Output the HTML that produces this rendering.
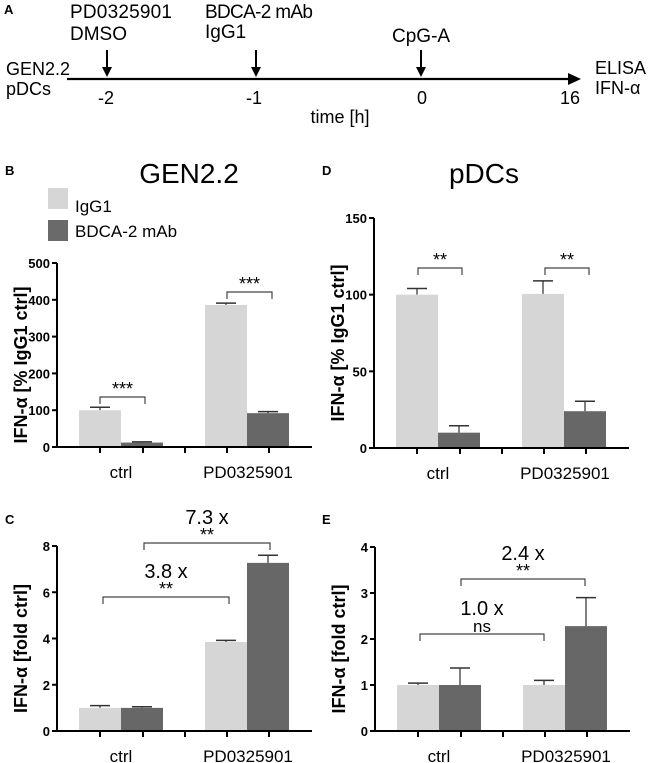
<!DOCTYPE html>
<html><head><meta charset="utf-8"><style>
body{margin:0;background:#fff;}
svg{display:block;font-family:"Liberation Sans",Arial,sans-serif;}
</style></head><body>
<svg id="fig" width="649" height="763" viewBox="0 0 649 763">
<g id="panelA">
<text x="4" y="14" font-size="13" font-weight="bold">A</text>
<line x1="67" y1="79" x2="572" y2="79" stroke="#000" stroke-width="2.2"/>
<polygon points="568,73 581,79 568,85" fill="#000"/>
<g stroke="#000" stroke-width="2">
<line x1="107" y1="50" x2="107" y2="70"/><line x1="256" y1="50" x2="256" y2="70"/><line x1="421" y1="50" x2="421" y2="70"/></g>
<g fill="#000"><polygon points="102,67 112,67 107,77"/><polygon points="251,67 261,67 256,77"/><polygon points="416,67 426,67 421,77"/></g>
<text x="70" y="18" font-size="19" textLength="102">PD0325901</text>
<text x="70" y="40" font-size="19">DMSO</text>
<text x="205" y="18" font-size="19" textLength="108">BDCA-2 mAb</text>
<text x="205" y="38" font-size="19">IgG1</text>
<text x="392" y="42" font-size="19">CpG-A</text>
<text x="6" y="75" font-size="18">GEN2.2</text>
<text x="6" y="95" font-size="18">pDCs</text>
<text x="595" y="74" font-size="18">ELISA</text>
<text x="595" y="94" font-size="18">IFN-α</text>
<g font-size="18" text-anchor="middle">
<text x="106" y="104">-2</text><text x="254" y="104">-1</text><text x="422" y="104">0</text><text x="570" y="104">16</text></g>
<text x="340" y="123" font-size="18" text-anchor="middle">time [h]</text>
</g>
<text x="5" y="175" font-size="13" font-weight="bold">B</text>
<text x="189" y="183" font-size="28" text-anchor="middle">GEN2.2</text>
<text x="322" y="175" font-size="13" font-weight="bold">D</text>
<text x="484" y="183" font-size="28" text-anchor="middle">pDCs</text>
<rect x="48" y="188" width="20" height="21" fill="#d6d6d6"/>
<text x="75" y="212" font-size="17">IgG1</text>
<rect x="48" y="220" width="20" height="21" fill="#6a6a6a"/>
<text x="75" y="237" font-size="17">BDCA-2 mAb</text>
<text x="5" y="524" font-size="13" font-weight="bold">C</text>
<text x="322" y="524" font-size="13" font-weight="bold">E</text>
</svg>
<script>
const categories = ["ctrl", "PD0325901"];
const bValues = [100, 12, 386, 92];
const bErrors = [108, 14, 391, 96];
const bTicks = [0, 100, 200, 300, 400, 500];
const cValues = [1.0, 1.0, 3.85, 7.27];
const cErrors = [1.1, 1.05, 3.92, 7.6];
const cTicks = [0, 2, 4, 6, 8];
const dValues = [100, 10, 100.5, 24];
const dErrors = [104, 14.5, 109, 30.5];
const dTicks = [0, 50, 100, 150];
const eValues = [1.0, 1.0, 1.0, 2.28];
const eErrors = [1.04, 1.37, 1.1, 2.9];
const eTicks = [0, 1, 2, 3, 4];

const NS = "http://www.w3.org/2000/svg";
const svg = document.getElementById("fig");
function mk(tag, attrs, parent) {
  const e = document.createElementNS(NS, tag);
  for (const k in attrs) e.setAttribute(k, attrs[k]);
  (parent || svg).appendChild(e);
  return e;
}
function panel(cfg) {
  const g = mk("g", {});
  
  
  const y = v => cfg.y0 - (v - cfg.ticks[0]) / (cfg.max - cfg.ticks[0]) * (cfg.y0 - cfg.yTop);
  const ax = cfg.ax;
  const barX = [ax + 22, ax + 64, ax + 148, ax + 190];
  cfg.values.forEach((v, i) => {
    const col = i % 2 ? "#676767" : "#d6d6d6";
    const ey = y(cfg.errors[i]);
    const cx = barX[i] + 21;
    const l = mk("line", {x1: cx, x2: cx, y1: ey, y2: y(v), stroke: "#555", "stroke-width": 1.5}, g);
    
    
    const c = mk("line", {x1: cx - 10, x2: cx + 10, y1: ey, y2: ey, stroke: "#333", "stroke-width": 1.5}, g);
    
    
    const r = mk("rect", {x: barX[i], y: y(v), width: 42, height: cfg.y0 - y(v), fill: col}, g);
    
    
  });
  const ya = mk("line", {x1: ax, x2: ax, y1: cfg.yTop, y2: cfg.y0 + 1, stroke: "#000", "stroke-width": 2}, g);
  
  
  const xa = mk("line", {x1: ax, x2: ax + 255, y1: cfg.y0, y2: cfg.y0, stroke: "#000", "stroke-width": 2}, g);
  
  
  [43, 86, 128, 170, 212].forEach(dx => {
    const t = mk("line", {x1: ax + dx, x2: ax + dx, y1: cfg.y0, y2: cfg.y0 + 6, stroke: "#000", "stroke-width": 2}, g);
    
    
  });
  cfg.ticks.forEach(tv => {
    const t = mk("line", {x1: ax - 5, x2: ax, y1: y(tv), y2: y(tv), stroke: "#000", "stroke-width": 2}, g);
    
    
    const tl = mk("text", {x: ax - 7, y: y(tv) + 5, "font-size": 13, "font-weight": "bold", "text-anchor": "end"}, g);
    tl.textContent = tv;
    
    
  });
  categories.forEach((c, i) => {
    const tl = mk("text", {x: ax + 64 + i * 127, y: cfg.y0 + 31, "font-size": 17, "text-anchor": "middle"}, g);
    tl.textContent = c;
    
    
  });
  const tt = mk("text", {x: 0, y: 0, "font-size": 18, "font-weight": "bold", "text-anchor": "middle",
    transform: `translate(${ax - 30},${(cfg.y0 + cfg.yTop) / 2 + 10}) rotate(-90)`}, g);
  tt.textContent = cfg.title;
  
  
  cfg.brackets.forEach(b => {
    const p = mk("path", {d: `M${ax + b[0]},${b[2] + 7}V${b[2]}H${ax + b[1]}V${b[2] + 7}`, fill: "none", stroke: "#444", "stroke-width": 1.2}, g);
    
    
    const mx = ax + (b[0] + b[1]) / 2;
    const s = mk("text", {x: mx, y: b[2] - 2, "font-size": b[3] === "ns" ? 17 : 18, "text-anchor": "middle"}, g);
    s.textContent = b[3];
    
    
    if (b[4]) {
      const f = mk("text", {x: mx, y: b[2] - 19, "font-size": 20, "text-anchor": "middle"}, g);
      f.textContent = b[4];
      
      
    }
  });
}
panel({name: "chart-gen22-percent", ax: 57, y0: 447, yTop: 263, ticks: bTicks, max: 500, values: bValues, errors: bErrors,
  title: "IFN-α [% IgG1 ctrl]", brackets: [[43, 88, 397, "***"], [170, 215, 292, "***"]]});
panel({name: "chart-gen22-fold", ax: 57, y0: 731, yTop: 546, ticks: cTicks, max: 8, values: cValues, errors: cErrors,
  title: "IFN-α [fold ctrl]", brackets: [[46, 172, 597, "**", "3.8 x"], [87, 213, 543, "**", "7.3 x"]]});
panel({name: "chart-pdcs-percent", ax: 374, y0: 448, yTop: 218, ticks: dTicks, max: 150, values: dValues, errors: dErrors,
  title: "IFN-α [% IgG1 ctrl]", brackets: [[44, 88, 268, "**"], [171, 215, 268, "**"]]});
panel({name: "chart-pdcs-fold", ax: 375, y0: 731, yTop: 547, ticks: eTicks, max: 4, values: eValues, errors: eErrors,
  title: "IFN-α [fold ctrl]", brackets: [[45, 169, 634, "ns", "1.0 x"], [86, 210, 579, "**", "2.4 x"]]});
</script>
</body></html>
